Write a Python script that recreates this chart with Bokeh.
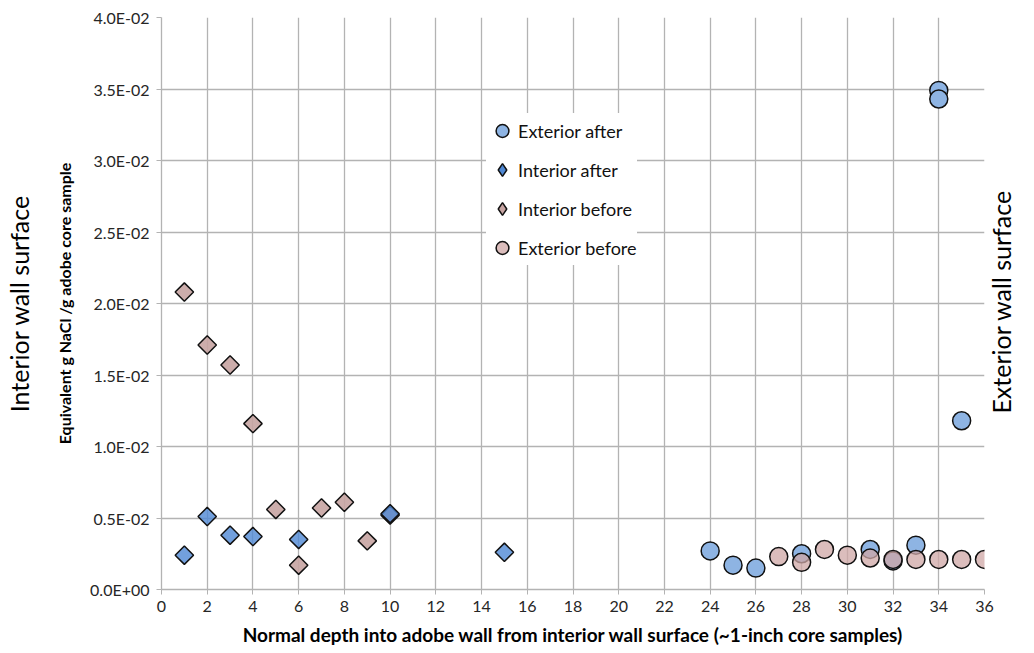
import math
from bokeh.plotting import figure
from bokeh.models import FixedTicker, Legend, LegendItem, LinearAxis
from bokeh.embed import file_html
from bokeh.resources import INLINE

# ---- data ----
ext_after_x = [24, 25, 26, 28, 31, 32, 33, 34, 34, 35]
ext_after_y = [0.0027, 0.0017, 0.0015, 0.0025, 0.0028, 0.0020, 0.0031, 0.0349, 0.0343, 0.0118]

int_after_x = [1, 2, 3, 4, 6, 10, 15]
int_after_y = [0.0024, 0.0051, 0.0038, 0.0037, 0.0035, 0.0053, 0.0026]

int_before_x = [1, 2, 3, 4, 5, 6, 7, 8, 9, 10]
int_before_y = [0.0208, 0.0171, 0.0157, 0.0116, 0.0056, 0.0017, 0.0057, 0.0061, 0.0034, 0.0052]

ext_before_x = [27, 28, 29, 30, 31, 32, 33, 34, 35, 36]
ext_before_y = [0.0023, 0.0019, 0.0028, 0.0024, 0.0022, 0.0021, 0.0021, 0.0021, 0.0021, 0.0021]

series_names = ["Exterior after", "Interior after", "Interior before", "Exterior before"]

x_ticks = list(range(0, 37, 2))
y_ticks = [0.0, 0.005, 0.01, 0.015, 0.02, 0.025, 0.03, 0.035, 0.04]
y_tick_labels = ["0.0E+00", "0.5E-02", "1.0E-02", "1.5E-02", "2.0E-02",
                 "2.5E-02", "3.0E-02", "3.5E-02", "4.0E-02"]

FONT = "Lato"

p = figure(width=1034, height=653, x_range=(0, 36), y_range=(0, 0.04),
           output_backend="svg", toolbar_location=None,
           min_border_left=160, min_border_right=50, min_border_top=17, min_border_bottom=64)
p.outline_line_color = None
p.background_fill_color = "white"
p.border_fill_color = "white"

grid_col = "#b3b3b3"
p.xgrid.ticker = FixedTicker(ticks=x_ticks)
p.ygrid.ticker = FixedTicker(ticks=y_ticks)
p.grid.grid_line_color = grid_col
p.grid.grid_line_width = 1.3

p.xaxis.ticker = FixedTicker(ticks=x_ticks)
p.yaxis.ticker = FixedTicker(ticks=y_ticks)
p.yaxis.major_label_overrides = {t: l for t, l in zip(y_ticks, y_tick_labels)}
p.axis.minor_tick_line_color = None
p.axis.axis_line_color = grid_col
p.axis.axis_line_width = 1.3
p.axis.major_tick_line_color = grid_col
p.axis.major_tick_out = 5
p.axis.major_tick_in = 0
p.axis.major_label_text_font = FONT
p.axis.major_label_text_font_size = "16px"
p.axis.major_label_text_color = "#262626"
p.xaxis.major_label_standoff = 6
p.yaxis.major_label_standoff = 7

p.xaxis.axis_label = "Normal depth into adobe wall from interior wall surface (~1-inch core samples)"
p.yaxis.axis_label = "Equivalent g NaCl /g adobe core sample"
p.axis.axis_label_text_font = FONT
p.axis.axis_label_text_font_style = "bold"
p.axis.axis_label_text_color = "#000000"
p.xaxis.axis_label_text_font_size = "19px"
p.yaxis.axis_label_text_font_size = "16px"
p.xaxis.axis_label_standoff = 8
p.yaxis.axis_label_standoff = 13

SIDE_FONT_SIZE = "25px"

# left outer label: a tick-less axis whose axis label reads bottom-to-top
left_ax = LinearAxis(ticker=FixedTicker(ticks=[]), axis_label="Interior wall surface")
left_ax.axis_line_color = None
left_ax.major_tick_line_color = None
left_ax.minor_tick_line_color = None
left_ax.major_label_text_font_size = "0px"
left_ax.major_tick_out = 0
left_ax.major_label_standoff = 0
left_ax.axis_label_text_font = FONT
left_ax.axis_label_text_font_size = SIDE_FONT_SIZE
left_ax.axis_label_text_font_style = "normal"
left_ax.axis_label_text_color = "#000000"
left_ax.axis_label_standoff = 19
p.add_layout(left_ax, "left")

# right outer label: one tick label, rotated to read bottom-to-top, starting at its lower end
right_label_start = 0.0123
right_ax = LinearAxis(ticker=FixedTicker(ticks=[right_label_start]))
right_ax.major_label_overrides = {right_label_start: "Exterior wall surface"}
right_ax.major_label_orientation = math.pi / 2
right_ax.axis_line_color = None
right_ax.major_tick_line_color = None
right_ax.minor_tick_line_color = None
right_ax.major_tick_out = 0
right_ax.major_tick_in = 0
right_ax.major_label_standoff = 17
right_ax.major_label_text_font = FONT
right_ax.major_label_text_font_size = SIDE_FONT_SIZE
right_ax.major_label_text_color = "#000000"
p.add_layout(right_ax, "right")

mk = dict(line_color="#111111", line_width=1.5)
r_ea = p.scatter(ext_after_x, ext_after_y, marker="circle", size=18, fill_color="#8eb4e3", **mk)
r_ib = p.scatter(int_before_x, int_before_y, marker="square", size=13, angle=math.pi / 4,
                 fill_color="#c7a4a2", fill_alpha=0.9, **mk)
r_ia = p.scatter(int_after_x, int_after_y, marker="square", size=13, angle=math.pi / 4,
                 fill_color="#4f88d4", fill_alpha=0.8, **mk)
r_eb = p.scatter(ext_before_x, ext_before_y, marker="circle", size=18,
                 fill_color="#cfa7a5", fill_alpha=0.75, **mk)

# legend-only proxies (a single NaN point: nothing is drawn) so the legend shows diamonds
l_ia = p.scatter([math.nan], [math.nan], marker="diamond", fill_color="#4f88d4", **mk)
l_ib = p.scatter([math.nan], [math.nan], marker="diamond", fill_color="#c7a4a2", **mk)

legend = Legend(items=[LegendItem(label=n, renderers=[r]) for n, r in
                       zip(series_names, [r_ea, l_ia, l_ib, r_eb])],
                location=(325, 324))
legend.border_line_color = None
legend.background_fill_color = "white"
legend.background_fill_alpha = 1.0
legend.label_text_font = FONT
legend.label_text_font_size = "18px"
legend.label_text_color = "#111111"
legend.glyph_width = 32
legend.glyph_height = 35
legend.label_height = 35
legend.label_standoff = 0
legend.spacing = 4
legend.padding = 2
legend.margin = 0
p.add_layout(legend, "center")

open("out.html", "w").write(file_html(p, INLINE))
